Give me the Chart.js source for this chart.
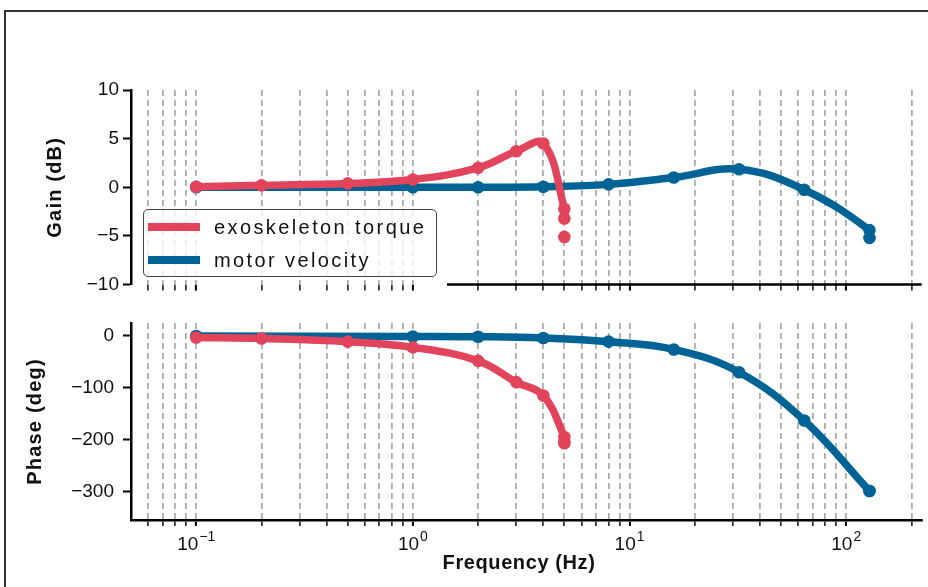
<!DOCTYPE html>
<html>
<head>
<meta charset="utf-8">
<script src="https://cdn.jsdelivr.net/npm/chart.js@4.4.1/dist/chart.umd.min.js"></script>
<style>
	body{margin:0;background:#fff;}
	#wrap{position:relative;width:928px;height:587px;overflow:hidden;font-family:"Liberation Sans",Arial,sans-serif;}
	#frame{position:absolute;left:4px;top:10px;width:1000px;height:1000px;border:2px solid #333;box-sizing:border-box;}
	canvas{position:absolute;left:0;}
	#gain{top:0;}
	#phase{top:300px;}
	#legend{position:absolute;left:143px;top:209px;width:294px;height:68px;box-sizing:border-box;border:1.5px solid #444;border-radius:5px;background:rgba(255,255,255,0.8);}
	#legend .row{position:absolute;left:0;height:24px;width:100%;}
	#legend .swatch{position:absolute;left:4px;top:8px;width:52px;height:8px;}
	#legend .label{position:absolute;left:70px;top:0;line-height:24px;font-size:20px;letter-spacing:2.4px;color:#111;white-space:nowrap;}
</style>
</head>
<body>
<div id="wrap">
	<div id="frame"></div>
	<canvas id="gain" width="928" height="300"></canvas>
	<canvas id="phase" width="928" height="287"></canvas>
	<div id="legend"></div>
</div>
<script>
'use strict';

// 周波数 (Hz)
const freqTorque = [0.1, 0.2, 0.5, 1, 2, 3, 4, 5, 5, 5, 5];
const freqMotor = [0.1, 1, 2, 4, 8, 16, 32, 64, 128, 128];

// ゲイン (dB)  null = 線を切る
const gainTorque = [0.05, 0.2, 0.4, 0.8, 2.0, 3.7, 4.5, -2.2, -3.2, null, -5.1];
const gainMotor = [0, 0, 0, 0.05, 0.3, 1.0, 1.85, -0.25, -4.4, -5.2];

// 位相 (deg)
const phaseTorque = [-3, -5, -11, -22, -48, -89, -115, -195, -204, null, -207];
const phaseMotor = [0, -1, -1.5, -4, -11, -26, -70, -163, -299, -299];

const seriesNames = ['exoskeleton torque', 'motor velocity'];
const seriesColors = ['#e2445c', '#006396'];

// 目盛り
const xGridTicks = [0.06, 0.07, 0.08, 0.09, 0.1, 0.2, 0.3, 0.4, 0.5, 0.6, 0.7, 0.8, 0.9,
	1, 2, 3, 4, 5, 6, 7, 8, 9, 10, 20, 30, 40, 50, 60, 70, 80, 90, 100, 200];
const xTickBase = '10';
const xTickExp = {0.1: '\u22121', 1: '0', 10: '1', 100: '2'};
const gainTicks = [-10, -5, 0, 5, 10];
const phaseTicks = [-300, -200, -100, 0];

const FONT = '"Liberation Sans", Arial, sans-serif';
const X_MIN = 0.05, X_MAX = 223;
const AXIS_LEFT = 131;

function pairs(xs, ys){
	let out = [];
	for(let i = 0; i < xs.length; i++){
		out.push({x: xs[i], y: ys[i]});
	}
	return out;
}

function minusText(v){
	return v < 0 ? '\u2212' + Math.abs(v) : String(v);
}

function makeDatasets(torque, motor){
	return [torque, motor].map((d, i) => ({
		label: seriesNames[i],
		data: d,
		borderColor: seriesColors[i],
		backgroundColor: seriesColors[i],
		borderWidth: 7.5,
		pointRadius: 6.3,
		pointBorderWidth: 0,
		pointHoverRadius: 6.3,
		tension: 0.4,
		spanGaps: false,
		borderCapStyle: 'round',
		borderJoinStyle: 'round'
	}));
}

// 凡例に隠れている部分を除いた下の軸線、10^n の目盛りラベル、軸タイトル
const extras = {
	id: 'extras',
	afterDraw(chart){
		let cfg = chart.options.plugins.extras;
		let ctx = chart.ctx;
		let area = chart.chartArea;
		ctx.save();
		if(cfg.partialAxis){
			ctx.strokeStyle = '#000';
			ctx.lineWidth = 2.5;
			ctx.beginPath();
			ctx.moveTo(447, area.bottom);
			ctx.lineTo(area.right, area.bottom);
			ctx.stroke();
		}
		ctx.fillStyle = '#111';
		ctx.textBaseline = 'alphabetic';
		ctx.textAlign = 'left';
		if(cfg.xLabels){
			let xs = chart.scales.x;
			for(let v in xTickExp){
				let px = xs.getPixelForValue(Number(v));
				ctx.font = `19px ${FONT}`;
				let w1 = ctx.measureText(xTickBase).width;
				ctx.font = `14px ${FONT}`;
				let w2 = ctx.measureText(xTickExp[v]).width;
				let left = px - (w1 + w2 + 1) / 2;
				ctx.font = `19px ${FONT}`;
				ctx.fillText(xTickBase, left, area.bottom + 30);
				ctx.font = `14px ${FONT}`;
				ctx.fillText(xTickExp[v], left + w1 + 1, area.bottom + 21);
			}
			ctx.font = `bold 20px ${FONT}`;
			ctx.letterSpacing = '0.6px';
			ctx.textAlign = 'center';
			ctx.textBaseline = 'middle';
			ctx.fillText('Frequency (Hz)', 519, area.bottom + 43);
		}
		ctx.font = `bold 20px ${FONT}`;
		ctx.letterSpacing = '1.2px';
		ctx.textAlign = 'center';
		ctx.textBaseline = 'middle';
		ctx.translate(cfg.yTitleX, (area.top + area.bottom) / 2);
		ctx.rotate(-Math.PI / 2);
		ctx.fillText(cfg.yTitle, 0, 0);
		ctx.restore();
		ctx.letterSpacing = '0px';
	}
};

function makeChart(id, datasets, cfg){
	return new Chart(document.getElementById(id), {
		type: 'line',
		data: {datasets: datasets},
		plugins: [extras],
		options: {
			responsive: false,
			animation: false,
			layout: {padding: {top: cfg.padTop, left: 10, right: 6, bottom: 0}},
			plugins: {
				legend: {display: false},
				tooltip: {enabled: false},
				extras: cfg
			},
			scales: {
				x: {
					type: 'logarithmic',
					min: X_MIN,
					max: X_MAX,
					afterBuildTicks: (scale) => {
						scale.ticks = xGridTicks.map(v => ({value: v}));
					},
					afterFit: (scale) => {
						scale.height = cfg.xHeight;
					},
					grid: {
						color: 'rgba(150,150,150,0.8)',
						lineWidth: 1.8,
						tickColor: '#000',
						tickWidth: (c) => (xTickExp[c.tick.value] ? 2 : 1.4),
						tickLength: 6
					},
					border: {display: !cfg.partialAxis, color: '#000', width: 2.5, dash: [6, 4]},
					ticks: {display: false}
				},
				y: {
					min: cfg.yMin,
					max: cfg.yMax,
					afterBuildTicks: (scale) => {
						scale.ticks = cfg.yTicks.map(v => ({value: v}));
					},
					afterFit: (scale) => {
						scale.width = AXIS_LEFT - 10;
					},
					grid: {drawOnChartArea: false, tickColor: '#000', tickWidth: 2, tickLength: 8},
					border: {color: '#000', width: 2.5},
					ticks: {
						padding: cfg.yPad,
						color: '#111',
						font: {family: FONT, size: 19},
						callback: (v) => minusText(v)
					}
				}
			}
		}
	});
}

let gainChart = makeChart('gain', makeDatasets(pairs(freqTorque, gainTorque), pairs(freqMotor, gainMotor)), {
	padTop: 90, xHeight: 15, yPad: 4,
	yMin: -10, yMax: 10, yTicks: gainTicks, yTitle: 'Gain (dB)', yTitleX: 55,
	xLabels: false, partialAxis: true
});

let phaseChart = makeChart('phase', makeDatasets(pairs(freqTorque, phaseTorque), pairs(freqMotor, phaseMotor)), {
	padTop: 23, xHeight: 67, yPad: 9,
	yMin: -355, yMax: 25, yTicks: phaseTicks, yTitle: 'Phase (deg)', yTitleX: 35,
	xLabels: true, partialAxis: false
});

// 凡例
let legend = document.getElementById('legend');
legend.innerHTML = '';
gainChart.data.datasets.forEach((ds, n) => {
	legend.innerHTML += `
		<div class="row" style="top:${5 + n * 33}px">
			<span class="swatch" style="background:${ds.borderColor}"></span>
			<span class="label">${ds.label}</span>
		</div>
	`;
});
</script>
</body>
</html>
